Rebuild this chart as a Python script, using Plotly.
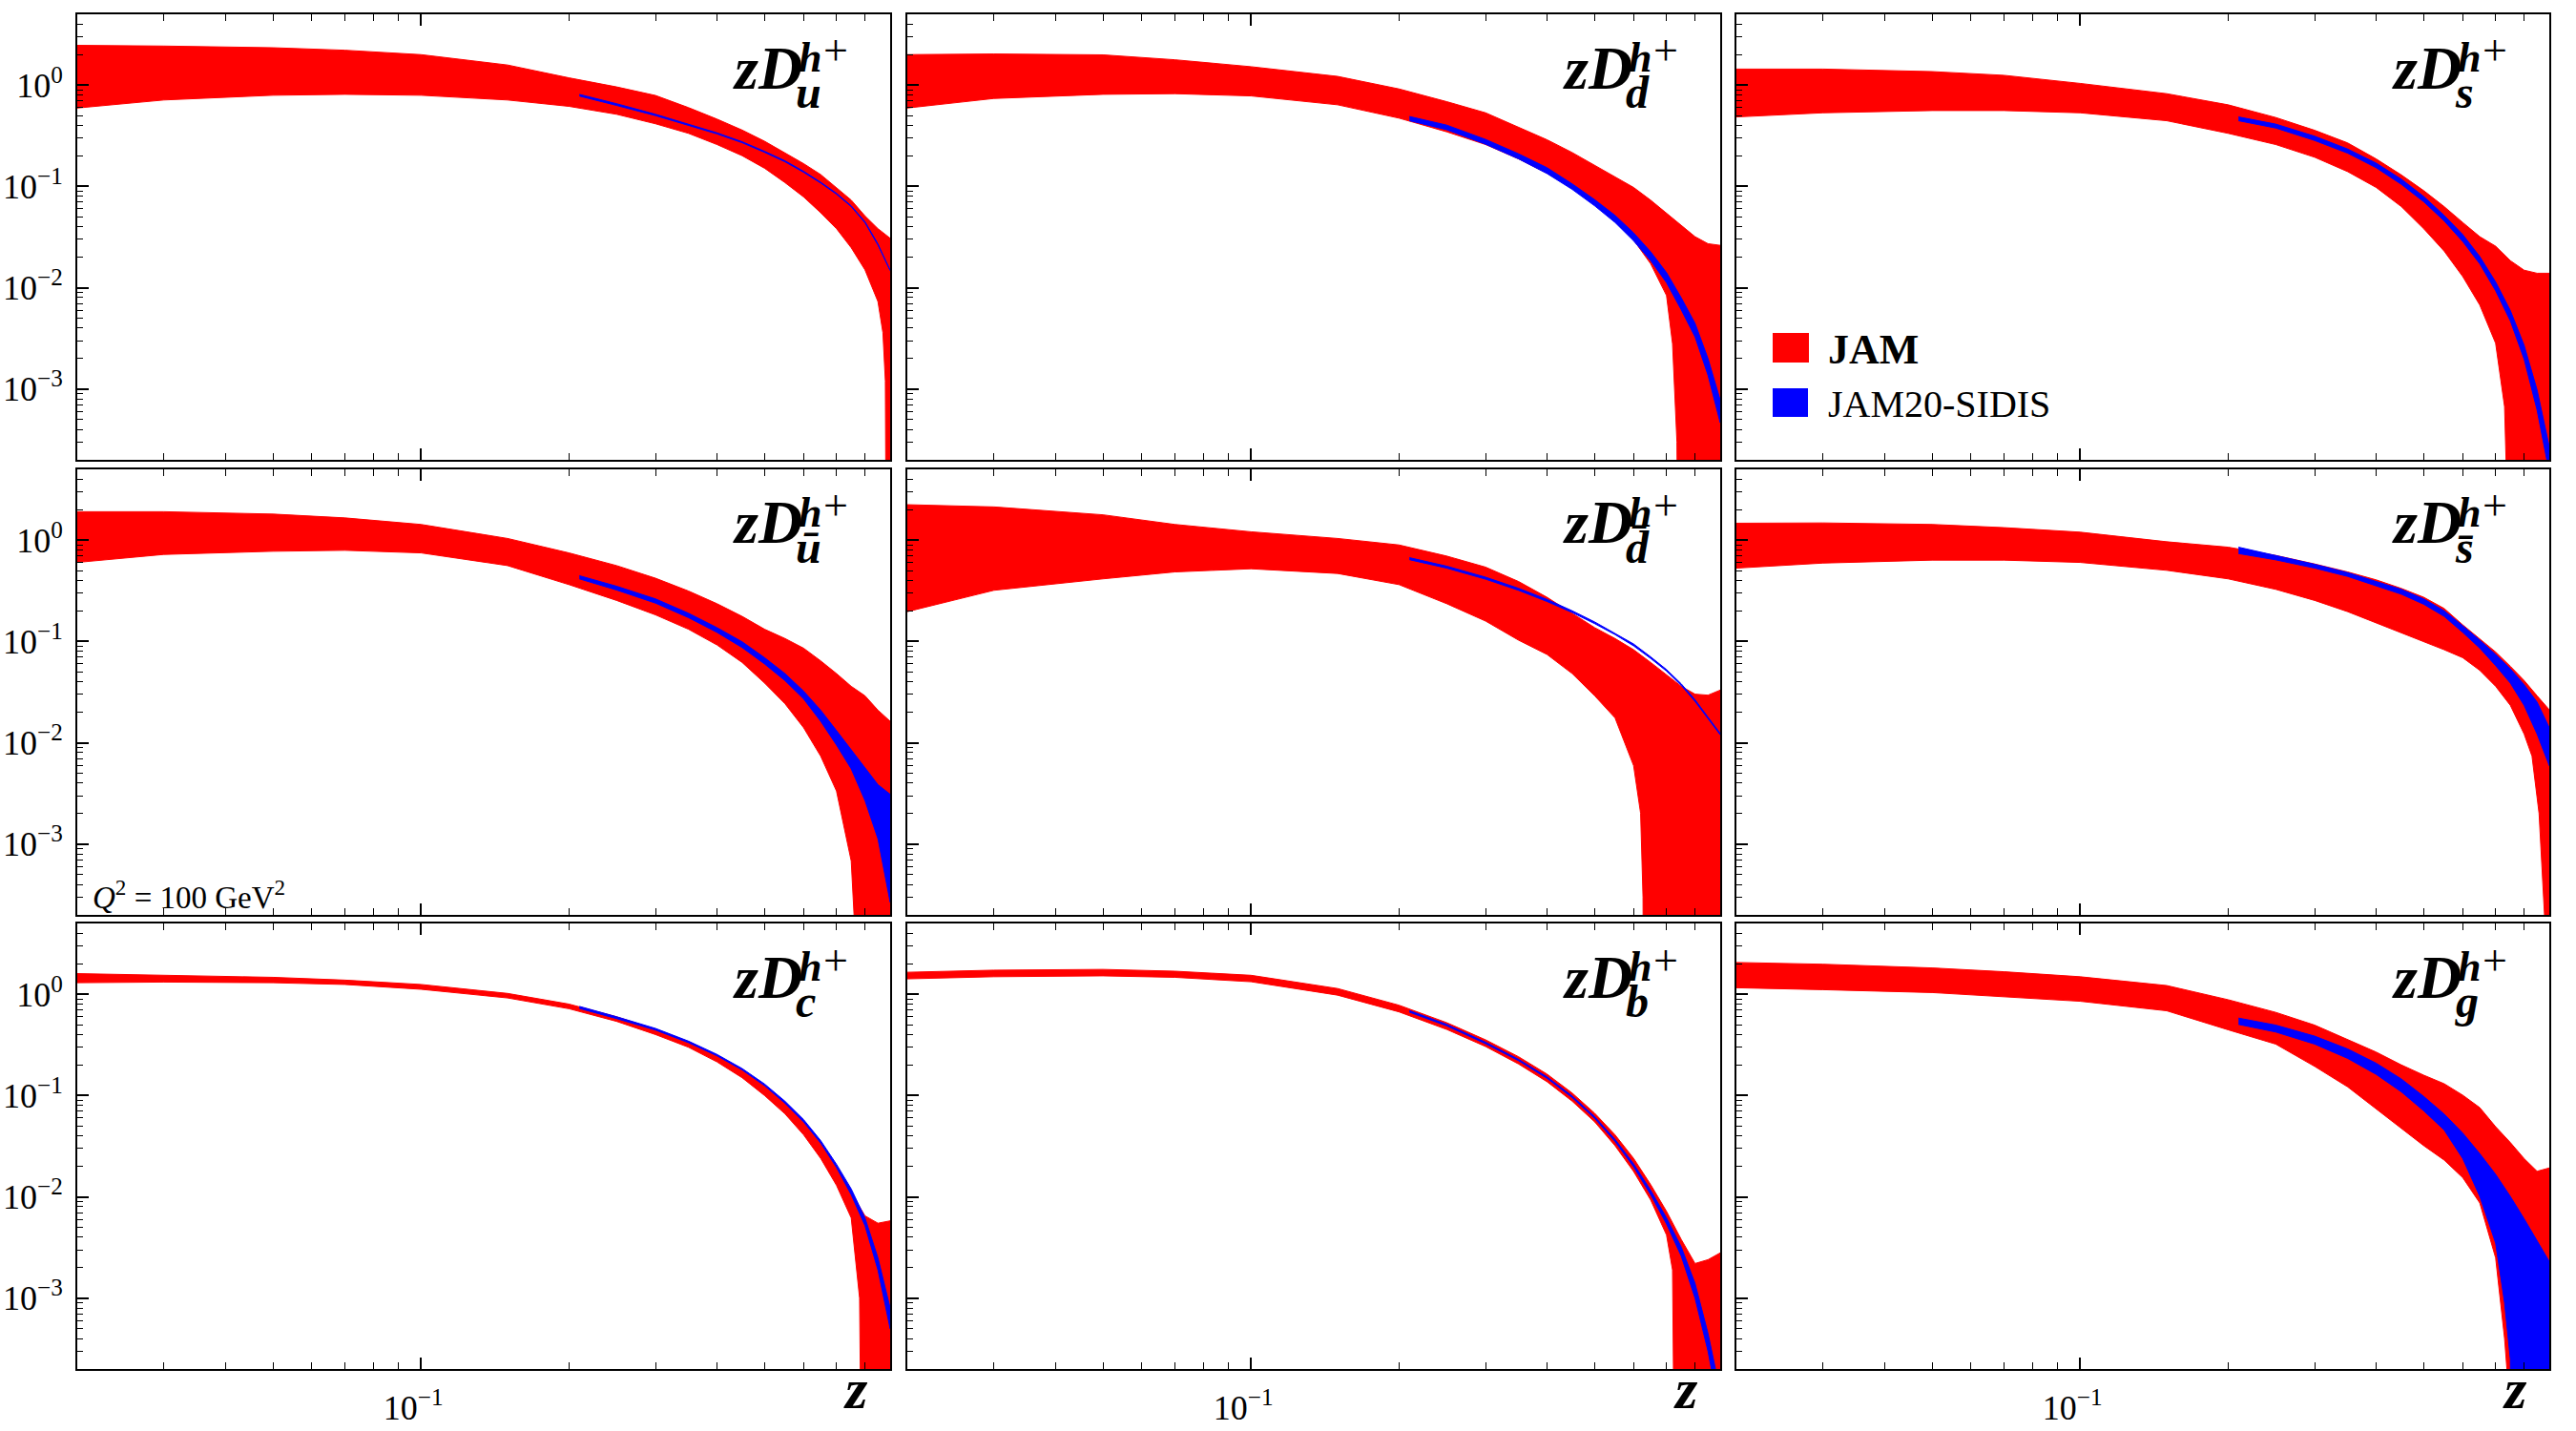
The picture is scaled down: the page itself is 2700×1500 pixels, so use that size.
import math
import plotly.graph_objects as go

# ---------------- data ----------------
Z = [0.02, 0.03, 0.05, 0.07, 0.1, 0.15, 0.2, 0.25, 0.3, 0.35, 0.4, 0.45, 0.5,
     0.55, 0.6, 0.65, 0.7, 0.75, 0.8, 0.85, 0.9]
ZB = [0.21, 0.25, 0.3, 0.35, 0.4, 0.45, 0.5, 0.55, 0.6, 0.65, 0.7, 0.75, 0.8, 0.85, 0.9]

# u
u_jam_hi = [2.47, 2.43, 2.34, 2.21, 2.0, 1.58, 1.18, 0.96, 0.79, 0.6, 0.462, 0.36, 0.279,
            0.216, 0.168, 0.131, 0.098, 0.0733, 0.0511, 0.0383, 0.0308]
u_jam_lo_z = [0.02, 0.03, 0.05, 0.07, 0.1, 0.15, 0.2, 0.25, 0.3, 0.35, 0.4, 0.45, 0.5,
              0.55, 0.6, 0.65, 0.7, 0.75, 0.8, 0.85, 0.87, 0.88, 0.886, 0.9]
u_jam_lo = [0.594, 0.713, 0.794, 0.811, 0.794, 0.713, 0.617, 0.515, 0.415, 0.334, 0.259,
            0.201, 0.151, 0.109, 0.0788, 0.055, 0.0383, 0.0248, 0.015, 0.0073, 0.0036,
            0.0012, 1e-6, 1e-6]
u_sidis_hi = [0.81, 0.655, 0.515, 0.414, 0.338, 0.276, 0.222, 0.179, 0.141, 0.11, 0.0855,
              0.0643, 0.0448, 0.027, 0.0152]
u_sidis_lo_z = ZB
u_sidis_lo = [0.78, 0.63, 0.5, 0.402, 0.33, 0.27, 0.217, 0.175, 0.138, 0.108, 0.0838,
              0.0632, 0.0438, 0.0264, 0.0148]

# d
d_jam_hi = [2.0, 2.03, 1.99, 1.78, 1.52, 1.22, 0.917, 0.687, 0.533, 0.385, 0.289, 0.216,
            0.162, 0.126, 0.0977, 0.0731, 0.0547, 0.041, 0.0319, 0.0272, 0.0262]
d_jam_lo_z = [0.02, 0.03, 0.05, 0.07, 0.1, 0.15, 0.2, 0.25, 0.3, 0.35, 0.4, 0.45, 0.5,
              0.55, 0.6, 0.65, 0.7, 0.72, 0.735, 0.74, 0.9]
d_jam_lo = [0.594, 0.738, 0.811, 0.823, 0.782, 0.639, 0.472, 0.346, 0.259, 0.187, 0.135,
            0.0977, 0.068, 0.0474, 0.0296, 0.0172, 0.00837, 0.0028, 0.0003, 1e-6, 1e-6]
d_sidis_hi = [0.49, 0.403, 0.291, 0.21, 0.153, 0.106, 0.074, 0.0518, 0.0348, 0.0226,
              0.0141, 0.00795, 0.00445, 0.002, 0.00078]
d_sidis_lo_z = ZB
d_sidis_lo = [0.445, 0.363, 0.261, 0.187, 0.134, 0.0935, 0.0643, 0.0441, 0.029, 0.0185,
              0.0112, 0.00605, 0.00327, 0.00137, 0.000466]

# s
s_jam_hi = [1.44, 1.44, 1.36, 1.25, 1.04, 0.823, 0.639, 0.479, 0.358, 0.269, 0.187, 0.13,
            0.0908, 0.0633, 0.0441, 0.0319, 0.0257, 0.0185, 0.0149, 0.0139, 0.0139]
s_jam_lo_z = [0.02, 0.03, 0.05, 0.07, 0.1, 0.15, 0.2, 0.25, 0.3, 0.35, 0.4, 0.45, 0.5,
              0.55, 0.6, 0.65, 0.7, 0.73, 0.735, 0.74, 0.9]
s_jam_lo = [0.485, 0.533, 0.561, 0.561, 0.533, 0.445, 0.334, 0.259, 0.194, 0.14, 0.0977,
            0.0633, 0.0382, 0.023, 0.0129, 0.00674, 0.00283, 0.00067, 0.0002, 1e-6, 1e-6]
s_sidis_hi = [0.485, 0.412, 0.313, 0.234, 0.17, 0.118, 0.0795, 0.0518, 0.0335, 0.0203,
              0.0114, 0.00595, 0.0027, 0.00098, 0.00027]
s_sidis_lo_z = ZB
s_sidis_lo = [0.445, 0.377, 0.284, 0.213, 0.153, 0.105, 0.0705, 0.0457, 0.0286, 0.0172,
              0.00933, 0.0047, 0.00197, 0.00062, 0.00015]

# u-bar
ub_jam_hi = [1.91, 1.91, 1.81, 1.66, 1.43, 1.04, 0.749, 0.561, 0.421, 0.315, 0.236, 0.177,
             0.132, 0.107, 0.0859, 0.0644, 0.0482, 0.0361, 0.0291, 0.021, 0.0163]
ub_jam_lo_z = [0.02, 0.03, 0.05, 0.07, 0.1, 0.15, 0.2, 0.25, 0.3, 0.35, 0.4, 0.45, 0.5,
               0.55, 0.6, 0.65, 0.7, 0.75, 0.76, 0.765, 0.9]
ub_jam_lo = [0.603, 0.723, 0.777, 0.794, 0.749, 0.561, 0.364, 0.254, 0.183, 0.132, 0.0924,
             0.0621, 0.0388, 0.0243, 0.0141, 0.00738, 0.00334, 0.00068, 0.0002, 1e-6, 1e-6]
ub_sidis_hi = [0.446, 0.351, 0.263, 0.19, 0.137, 0.0993, 0.0692, 0.0482, 0.0324, 0.021,
               0.0132, 0.00853, 0.00553, 0.00386, 0.0031]
ub_sidis_lo_z = ZB
ub_sidis_lo = [0.415, 0.322, 0.239, 0.172, 0.123, 0.0871, 0.0599, 0.0411, 0.0271, 0.0163,
               0.0095, 0.00553, 0.00269, 0.00113, 0.000267]

# d-bar
db_jam_hi = [2.24, 2.13, 1.78, 1.43, 1.21, 1.04, 0.897, 0.697, 0.542, 0.391, 0.273, 0.19,
             0.137, 0.107, 0.0829, 0.0621, 0.0465, 0.0361, 0.0302, 0.0295, 0.0331]
db_jam_lo_z = [0.02, 0.03, 0.05, 0.07, 0.1, 0.15, 0.2, 0.25, 0.3, 0.35, 0.4, 0.45, 0.5,
               0.55, 0.6, 0.62, 0.627, 0.63, 0.9]
db_jam_lo = [0.197, 0.32, 0.415, 0.486, 0.522, 0.469, 0.364, 0.236, 0.159, 0.103, 0.0744,
             0.0482, 0.0291, 0.0176, 0.00594, 0.00201, 0.0003, 1e-6, 1e-6]
db_sidis_hi = [0.672, 0.554, 0.431, 0.335, 0.26, 0.201, 0.156, 0.121, 0.0945, 0.0705,
               0.0528, 0.0382, 0.0266, 0.0179, 0.0124]
db_sidis_lo_z = ZB
db_sidis_lo = [0.642, 0.53, 0.412, 0.32, 0.248, 0.193, 0.15, 0.117, 0.0905, 0.068, 0.051,
               0.0368, 0.0256, 0.0173, 0.012]

# s-bar
sb_jam_hi = [1.47, 1.48, 1.43, 1.33, 1.2, 0.965, 0.853, 0.707, 0.582, 0.486, 0.406, 0.334,
             0.273, 0.212, 0.146, 0.107, 0.0788, 0.0569, 0.0412, 0.0291, 0.0212]
sb_jam_lo_z = [0.02, 0.03, 0.05, 0.07, 0.1, 0.15, 0.2, 0.25, 0.3, 0.35, 0.4, 0.45, 0.5,
               0.55, 0.6, 0.65, 0.7, 0.75, 0.8, 0.83, 0.858, 0.88, 0.885, 0.9]
sb_jam_lo = [0.53, 0.594, 0.635, 0.635, 0.603, 0.504, 0.415, 0.327, 0.254, 0.197, 0.153,
             0.123, 0.0993, 0.0829, 0.0692, 0.0519, 0.0361, 0.0234, 0.0122, 0.00738, 0.002,
             0.0002, 1e-6, 1e-6]
sb_sidis_hi = [0.853, 0.707, 0.578, 0.479, 0.391, 0.327, 0.263, 0.201, 0.143, 0.103, 0.0744,
               0.0537, 0.0375, 0.0252, 0.0141]
sb_sidis_lo_z = ZB
sb_sidis_lo = [0.738, 0.639, 0.53, 0.439, 0.354, 0.293, 0.233, 0.177, 0.123, 0.0859, 0.0578,
               0.0388, 0.0234, 0.0122, 0.00594]

# c
c_jam_hi = [1.6, 1.55, 1.47, 1.38, 1.25, 1.02, 0.8, 0.6, 0.45, 0.34, 0.25, 0.18, 0.125,
            0.085, 0.055, 0.034, 0.02, 0.011, 0.0065, 0.0055, 0.0058]
c_jam_lo_z = [0.02, 0.03, 0.05, 0.07, 0.1, 0.15, 0.2, 0.25, 0.3, 0.35, 0.4, 0.45, 0.5,
              0.55, 0.6, 0.65, 0.7, 0.75, 0.78, 0.79, 0.9]
c_jam_lo = [1.3, 1.32, 1.3, 1.25, 1.12, 0.92, 0.72, 0.54, 0.4, 0.3, 0.215, 0.15, 0.1, 0.066,
            0.041, 0.024, 0.013, 0.0062, 0.001, 1e-6, 1e-6]
c_sidis_hi = [0.76, 0.6, 0.46, 0.345, 0.255, 0.185, 0.13, 0.088, 0.058, 0.036, 0.021, 0.012,
              0.0062, 0.0025, 0.0008]
c_sidis_lo_z = ZB
c_sidis_lo = [0.725, 0.575, 0.443, 0.333, 0.247, 0.179, 0.125, 0.084, 0.055, 0.034, 0.0195,
              0.0105, 0.0052, 0.0019, 0.0005]

# b
b_jam_hi = [1.65, 1.73, 1.76, 1.69, 1.54, 1.14, 0.78, 0.525, 0.355, 0.242, 0.163, 0.106,
            0.067, 0.041, 0.024, 0.0132, 0.0072, 0.0038, 0.0022, 0.0024, 0.0028]
b_jam_lo_z = [0.02, 0.03, 0.05, 0.07, 0.1, 0.15, 0.2, 0.25, 0.3, 0.35, 0.4, 0.45, 0.5,
              0.55, 0.6, 0.65, 0.7, 0.72, 0.73, 0.9]
b_jam_lo = [1.42, 1.49, 1.52, 1.47, 1.33, 0.98, 0.67, 0.45, 0.305, 0.205, 0.137, 0.088,
            0.055, 0.032, 0.0178, 0.0093, 0.0042, 0.0019, 1e-6, 1e-6]
b_sidis_hi = [0.69, 0.505, 0.336, 0.228, 0.153, 0.099, 0.062, 0.037, 0.0212, 0.0116,
              0.0062, 0.0032, 0.0014, 0.00045, 0.00012]
b_sidis_lo_z = ZB
b_sidis_lo = [0.665, 0.488, 0.325, 0.221, 0.148, 0.0955, 0.0595, 0.0352, 0.0198, 0.0105,
              0.0054, 0.0026, 0.001, 0.0003, 0.00007]

# g
g_jam_hi = [2.06, 1.98, 1.82, 1.67, 1.49, 1.22, 0.884, 0.663, 0.496, 0.359, 0.269, 0.201,
            0.159, 0.131, 0.101, 0.076, 0.0493, 0.0344, 0.0239, 0.0179, 0.0193]
g_jam_lo_z = [0.02, 0.03, 0.05, 0.07, 0.1, 0.15, 0.2, 0.25, 0.3, 0.35, 0.4, 0.45, 0.5,
              0.55, 0.6, 0.65, 0.7, 0.73, 0.738, 0.742, 0.9]
g_jam_lo = [1.16, 1.11, 1.04, 0.95, 0.853, 0.687, 0.446, 0.322, 0.194, 0.122, 0.0733,
            0.0475, 0.032, 0.0231, 0.0155, 0.0087, 0.0025, 0.0004, 0.0002, 1e-6, 1e-6]
g_sidis_hi = [0.582, 0.496, 0.386, 0.289, 0.209, 0.146, 0.098, 0.0658, 0.0427, 0.0267,
              0.0167, 0.0101, 0.00608, 0.00367, 0.0023]
g_sidis_lo_z = [0.21, 0.25, 0.3, 0.35, 0.4, 0.45, 0.5, 0.55, 0.6, 0.65, 0.7, 0.73, 0.75,
                0.755, 0.9]
g_sidis_lo = [0.504, 0.424, 0.322, 0.233, 0.162, 0.109, 0.0707, 0.0458, 0.0239, 0.0101,
              0.0035, 0.0009, 0.00025, 1e-6, 1e-6]

flavor_labels = ["u", "d", "s", "\u016b", "d\u0304", "s\u0304", "c", "b", "g"]
x_tick_vals = [0.1]
x_tick_text = ["10<sup>\u22121</sup>"]
y_tick_vals = [1e-3, 1e-2, 1e-1, 1]
y_tick_text = ["10<sup>\u22123</sup>", "10<sup>\u22122</sup>", "10<sup>\u22121</sup>", "10<sup>0</sup>"]
x_minor_vals = [0.03, 0.04, 0.05, 0.06, 0.07, 0.08, 0.09, 0.2, 0.3, 0.4, 0.5, 0.6, 0.7, 0.8]
y_minor_vals = [3e-4, 4e-4, 5e-4, 6e-4, 7e-4, 8e-4, 9e-4,
                2e-3, 3e-3, 4e-3, 5e-3, 6e-3, 7e-3, 8e-3, 9e-3,
                2e-2, 3e-2, 4e-2, 5e-2, 6e-2, 7e-2, 8e-2, 9e-2,
                0.2, 0.3, 0.4, 0.5, 0.6, 0.7, 0.8, 0.9, 2, 3, 4]
X_RANGE = [0.02, 0.9]
Y_RANGE = [2e-4, 5]

panels = [
    (u_jam_hi, u_jam_lo_z, u_jam_lo, u_sidis_hi, u_sidis_lo_z, u_sidis_lo),
    (d_jam_hi, d_jam_lo_z, d_jam_lo, d_sidis_hi, d_sidis_lo_z, d_sidis_lo),
    (s_jam_hi, s_jam_lo_z, s_jam_lo, s_sidis_hi, s_sidis_lo_z, s_sidis_lo),
    (ub_jam_hi, ub_jam_lo_z, ub_jam_lo, ub_sidis_hi, ub_sidis_lo_z, ub_sidis_lo),
    (db_jam_hi, db_jam_lo_z, db_jam_lo, db_sidis_hi, db_sidis_lo_z, db_sidis_lo),
    (sb_jam_hi, sb_jam_lo_z, sb_jam_lo, sb_sidis_hi, sb_sidis_lo_z, sb_sidis_lo),
    (c_jam_hi, c_jam_lo_z, c_jam_lo, c_sidis_hi, c_sidis_lo_z, c_sidis_lo),
    (b_jam_hi, b_jam_lo_z, b_jam_lo, b_sidis_hi, b_sidis_lo_z, b_sidis_lo),
    (g_jam_hi, g_jam_lo_z, g_jam_lo, g_sidis_hi, g_sidis_lo_z, g_sidis_lo),
]

# ---------------- layout geometry ----------------
W, H = 2700, 1500
COLS = [(81, 933), (951, 1803), (1820, 2672)]
ROWS = [(15, 482), (492, 959), (968, 1435)]
RED = "#ff0000"
BLUE = "#0000ff"
FONT = "Liberation Serif"


def px_x(p):
    return p / W


def px_y(p):
    return 1 - p / H


fig = go.Figure()
layout_axes = {}
annotations = []


def ann(text, xpx, ypx, size, xanchor="left", yanchor="middle"):
    annotations.append(dict(text=text, x=px_x(xpx), y=px_y(ypx), xref="paper", yref="paper",
                            xanchor=xanchor, yanchor=yanchor, showarrow=False, borderpad=0,
                            font=dict(family=FONT, size=size, color="black")))


for i, (jhi, jloz, jlo, shi, sloz, slo) in enumerate(panels):
    r, c = divmod(i, 3)
    k = i + 1
    xa = "x" if k == 1 else f"x{k}"
    ya = "y" if k == 1 else f"y{k}"
    fig.add_trace(go.Scatter(
        x=Z + list(reversed(jloz)), y=jhi + list(reversed(jlo)),
        fill="toself", fillcolor=RED, mode="lines", line=dict(color=RED, width=1),
        xaxis=xa, yaxis=ya, showlegend=False, hoverinfo="skip"))
    fig.add_trace(go.Scatter(
        x=ZB + list(reversed(sloz)), y=shi + list(reversed(slo)),
        fill="toself", fillcolor=BLUE, mode="lines", line=dict(color=BLUE, width=1),
        xaxis=xa, yaxis=ya, showlegend=False, hoverinfo="skip"))

    L, R = COLS[c]
    T, B = ROWS[r]
    xname = "xaxis" if k == 1 else f"xaxis{k}"
    yname = "yaxis" if k == 1 else f"yaxis{k}"
    layout_axes[xname] = dict(
        type="log", range=[math.log10(X_RANGE[0]), math.log10(X_RANGE[1])],
        domain=[px_x(L), px_x(R)], anchor=ya,
        showline=True, linecolor="black", linewidth=2, mirror="ticks",
        ticks="inside", ticklen=12, tickwidth=1.5, tickcolor="black",
        tickmode="array", tickvals=x_tick_vals, ticktext=x_tick_text,
        showticklabels=(r == 2), ticklabelstandoff=8, ticklabelshift=-8,
        tickfont=dict(family=FONT, size=36, color="black"),
        showgrid=False, zeroline=False,
        minor=dict(ticks="inside", ticklen=7, tickwidth=1.2, tickcolor="black",
                   tickmode="array", tickvals=x_minor_vals, showgrid=False))
    layout_axes[yname] = dict(
        type="log", range=[math.log10(Y_RANGE[0]), math.log10(Y_RANGE[1])],
        domain=[px_y(B), px_y(T)], anchor=xa,
        showline=True, linecolor="black", linewidth=2, mirror=True,
        ticks="inside", ticklen=12, tickwidth=1.5, tickcolor="black",
        tickmode="array", tickvals=y_tick_vals, ticktext=y_tick_text,
        showticklabels=(c == 0), ticklabelstandoff=6,
        tickfont=dict(family=FONT, size=36, color="black"),
        showgrid=False, zeroline=False,
        minor=dict(ticks="inside", ticklen=6, tickwidth=1.2, tickcolor="black",
                   tickmode="array", tickvals=y_minor_vals, showgrid=False))

    # panel label  zD^{h+}_q  (built from pieces: plotly has no stacked sup/sub)
    ann("<b><i>zD</i></b>", R - 91, T + 56, 64, xanchor="right")
    ann("<b><i>h</i></b>", R - 97, T + 45, 44)
    ann("+", R - 71, T + 38, 46)
    ann(f"<b><i>{flavor_labels[i]}</i></b>", R - 100, T + 81, 48)

    if r == 2:
        ann("<b><i>z</i></b>", R - 36, 1456, 60, xanchor="center")

# Q^2 note
ann("<i>Q</i><sup>2</sup> = 100 GeV<sup>2</sup>", 96, 938, 33)

# legend (inside top-right panel)
shapes = [
    dict(type="rect", xref="paper", yref="paper", x0=px_x(1858), x1=px_x(1896),
         y0=px_y(380), y1=px_y(349), fillcolor=RED, line=dict(width=0)),
    dict(type="rect", xref="paper", yref="paper", x0=px_x(1858), x1=px_x(1895),
         y0=px_y(437), y1=px_y(407), fillcolor=BLUE, line=dict(width=0)),
]
ann("<b>JAM</b>", 1915, 366, 44)
ann("JAM20-SIDIS", 1915, 423, 40)

fig.update_layout(
    width=W, height=H, autosize=False,
    margin=dict(l=0, r=0, t=0, b=0),
    paper_bgcolor="white", plot_bgcolor="white",
    font=dict(family=FONT, color="black"),
    showlegend=False,
    annotations=annotations, shapes=shapes,
    **layout_axes)

fig.write_html("out.html", config={"displayModeBar": False},
               post_script="document.body.style.margin='0';")
